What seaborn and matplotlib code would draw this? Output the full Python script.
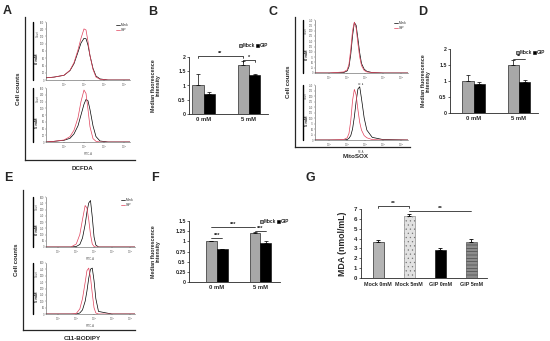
import numpy as np
import pandas as pd
import matplotlib.pyplot as plt
from matplotlib.lines import Line2D
import seaborn as sns

sns.set_style("ticks")
plt.rcParams["font.family"] = ["Liberation Sans", "DejaVu Sans"]
plt.rcParams["hatch.linewidth"] = 0.4

# ---- data -------------------------------------------------------------
doses = ["0 mM", "5 mM"]
groups = ["Mock", "GIP"]

# flow cytometry histograms (x in log decades, y in counts)
A_x = [1.1, 1.5, 2.0, 2.3, 2.5, 2.7, 2.85, 3.0, 3.1, 3.2, 3.3, 3.45, 3.6, 3.8, 4.2, 5.3]
A_top_mock = [6, 8, 13, 26, 45, 77, 102, 115, 114, 96, 67, 32, 11, 3, 0, 0]
A_top_gip = [6, 8, 13, 27, 48, 83, 115, 141, 138, 106, 67, 29, 8, 2, 0, 0]
A_bot_mock = [0, 2, 5, 11, 24, 48, 80, 112, 126, 122, 96, 48, 16, 3, 0, 0]
A_bot_gip = [0, 2, 6, 16, 35, 72, 120, 154, 144, 96, 45, 10, 2, 0, 0, 0]

C_x = [0.2, 1.0, 1.8, 2.0, 2.1, 2.2, 2.3, 2.4, 2.5, 2.6, 2.7, 2.8, 2.95, 3.1, 3.4, 4.0, 5.4]
C_top_mock = [0, 0, 2, 10, 30, 88, 175, 238, 225, 162, 95, 45, 18, 8, 2, 0, 0]
C_top_gip = [0, 0, 5, 15, 42, 112, 200, 240, 212, 138, 75, 35, 12, 5, 2, 0, 0]
C_bot_mock = [0, 0, 0, 2, 8, 20, 50, 105, 175, 232, 242, 188, 100, 45, 12, 2, 0]
C_bot_gip = [0, 0, 2, 10, 30, 88, 180, 230, 205, 138, 80, 45, 20, 10, 2, 0, 0]

E_x = [0.3, 1.0, 1.7, 2.0, 2.2, 2.35, 2.5, 2.6, 2.7, 2.8, 2.9, 3.0, 3.1, 3.25, 4.0, 5.3]
E_top_mock = [0, 0, 0, 4, 20, 72, 180, 280, 352, 372, 240, 80, 16, 0, 0, 0]
E_top_gip = [0, 0, 0, 24, 100, 220, 332, 312, 220, 100, 24, 4, 0, 0, 0, 0]
E_bot_mock = [0, 0, 0, 0, 8, 32, 100, 180, 280, 352, 360, 260, 120, 20, 0, 0]
E_bot_gip = [0, 0, 0, 4, 40, 120, 248, 340, 360, 288, 160, 48, 8, 0, 0, 0]

# median fluorescence intensity
B_mock, B_mock_err = [1.0, 1.72], [0.42, 0.15]
B_gip, B_gip_err = [0.70, 1.37], [0.06, 0.05]
D_mock, D_mock_err = [1.0, 1.50], [0.18, 0.15]
D_gip, D_gip_err = [0.90, 0.98], [0.06, 0.06]
F_mock, F_mock_err = [1.0, 1.20], [0.01, 0.02]
F_gip, F_gip_err = [0.80, 0.97], [0.02, 0.03]

# MDA
G_labels = ["Mock 0mM", "Mock 5mM", "GIP 0mM", "GIP 5mM"]
G_values = [3.7, 6.3, 2.8, 3.7]
G_err = [0.15, 0.2, 0.2, 0.25]

W, H = 550, 341
GRAY = "#a8a8a8"
RED = "#e0405a"


def box(x0, y0, x1, y1):
    return [x0 / W, 1 - y1 / H, (x1 - x0) / W, (y1 - y0) / H]


def ftext(x, y, s, **kw):
    fig.text(x / W, 1 - y / H, s, **kw)


def vline(x, y0, y1, lw=1.0):
    fig.add_artist(Line2D([x / W, x / W], [1 - y0 / H, 1 - y1 / H],
                          color="black", lw=lw, transform=fig.transFigure))


fig = plt.figure(figsize=(5.5, 3.41), dpi=100)


# ---- flow cytometry panels ---------------------------------------------
def hist_axes(rect, xs, mock, gip, xlim, xticks, ylim, yticks, xlabel, legend):
    ax = fig.add_axes(box(*rect))
    sns.lineplot(x=xs, y=mock, color="black", lw=0.5, ax=ax, label="Mock")
    sns.lineplot(x=xs, y=gip, color=RED, lw=0.5, ax=ax, label="GIP")
    ax.set_xlim(*xlim)
    ax.set_ylim(*ylim)
    ax.set_xticks(xticks, [f"$10^{{{t}}}$" for t in xticks])
    ax.set_yticks(yticks)
    ax.tick_params(labelsize=1.8, length=0.8, width=0.3, pad=0.4, colors="#555555")
    for s in ["top", "right"]:
        ax.spines[s].set_visible(False)
    for s in ["left", "bottom"]:
        ax.spines[s].set_linewidth(0.4)
        ax.spines[s].set_color("#555555")
    ax.set_xlabel(xlabel, fontsize=2.0, labelpad=0.3, color="#555555")
    ax.set_ylabel("Count", fontsize=1.8, color="#555555")
    ax.yaxis.set_label_coords(-0.075, 0.8)
    if legend:
        ax.legend(loc="upper right", fontsize=2.3, frameon=False, handlelength=1.2,
                  handletextpad=0.3, borderaxespad=0, labelspacing=0.2)
    else:
        ax.get_legend().remove()
    return ax


def flow_block(outer, top, bot, bar_x, xs, data, xlim, xticks, ylim, yticks, xlabel, title):
    ox0, oy0, ox1, oy1 = outer
    frame = fig.add_axes(box(*outer), zorder=0)
    frame.patch.set_alpha(0)
    frame.set_xticks([])
    frame.set_yticks([])
    for s in ["top", "right"]:
        frame.spines[s].set_visible(False)
    for s in ["left", "bottom"]:
        frame.spines[s].set_linewidth(0.9)
    ftext(ox0 - 7, (oy0 + oy1) / 2, "Cell counts", rotation=90, ha="center", va="center",
          fontsize=4.3, fontweight="bold")
    ftext((ox0 + ox1) / 2 + 3, oy1 + 9, title, ha="center", va="center",
          fontsize=4.5, fontweight="bold")
    for rect, (mock, gip), lab, leg in [(top, data[0], "0 mM", True), (bot, data[1], "5 mM", False)]:
        hist_axes(rect, xs, mock, gip, xlim, xticks, ylim, yticks, xlabel, leg)
        vline(bar_x, rect[1], rect[3])
        ftext(bar_x + 3.5, (rect[1] + rect[3]) / 2 + 8, lab, rotation=90, ha="center",
              va="center", fontsize=3.0, fontweight="bold")


flow_block((25, 17, 135, 160), (46, 22, 130, 80), (46, 88, 130, 142), 33, A_x,
           [(A_top_mock, A_top_gip), (A_bot_mock, A_bot_gip)],
           (1.1, 5.3), [2, 3, 4, 5], (0, 160), range(0, 161, 20), "FITC-A", "DCFDA")
flow_block((295, 17, 410, 147), (315, 20, 408, 73), (315, 85, 408, 140), 303, C_x,
           [(C_top_mock, C_top_gip), (C_bot_mock, C_bot_gip)],
           (0.2, 5.4), [1, 2, 3, 4, 5], (0, 250), range(0, 251, 25), "PE-A", "MitoSOX")
flow_block((23, 190, 135, 330), (46, 197, 135, 247), (46, 263, 135, 314), 33, E_x,
           [(E_top_mock, E_top_gip), (E_bot_mock, E_bot_gip)],
           (0.3, 5.3), [1, 2, 3, 4, 5], (0, 400), range(0, 401, 50), "FITC-A", "C11-BODIPY")


# ---- bar panels --------------------------------------------------------
def bracket(ax, xa, xb, y, text, drop, fs=4):
    ax.plot([xa, xa, xb, xb], [y - drop, y, y, y - drop], color="black", lw=0.5, clip_on=False)
    ax.text((xa + xb) / 2, y, text, ha="center", va="bottom", fontsize=fs, fontweight="bold")


def style_bar_axes(ax, ylabel, ylabel_x, fs_tick, fs_label):
    sns.despine(ax=ax)
    for s in ["left", "bottom"]:
        ax.spines[s].set_linewidth(0.6)
    ax.tick_params(axis="y", labelsize=fs_tick, length=1.5, width=0.5, pad=1)
    ax.tick_params(axis="x", labelsize=fs_tick + 0.4, length=0, pad=2)
    for t in ax.get_xticklabels() + ax.get_yticklabels():
        t.set_fontweight("bold")
    ax.set_xlabel("")
    ax.set_ylabel(ylabel, fontsize=fs_label, fontweight="bold", linespacing=1.0)
    ax.yaxis.set_label_coords(ylabel_x, 0.5)


def mfi_panel(rect, mock, mock_err, gip, gip_err, ylim, yticks, ytl, xlim, leg_anchor, ylabel_x):
    ax = fig.add_axes(box(*rect))
    df = pd.DataFrame({"Dose": doses * 2, "Group": ["Mock"] * 2 + ["GIP"] * 2,
                       "MFI": mock + gip})
    sns.barplot(data=df, x="Dose", y="MFI", hue="Group", palette=[GRAY, "black"],
                width=0.5, errorbar=None, edgecolor="black", linewidth=0.4, ax=ax)
    centers = []
    for cont, errs in zip(ax.containers, [mock_err, gip_err]):
        row = []
        for bar, e in zip(cont, errs):
            cx = bar.get_x() + bar.get_width() / 2
            row.append(cx)
            ax.errorbar(cx, bar.get_height(), yerr=[[0], [e]], fmt="none", ecolor="black",
                        elinewidth=0.5, capsize=1.2, capthick=0.5)
        centers.append(row)
    ax.set_ylim(*ylim)
    ax.set_yticks(yticks, ytl)
    ax.set_xlim(*xlim)
    handles, labels = ax.get_legend_handles_labels()
    ax.legend(handles, labels, loc="upper right", bbox_to_anchor=leg_anchor, ncol=2,
              frameon=False, handlelength=0.6, handleheight=0.6,
              handletextpad=0.15, columnspacing=0.3, borderpad=0, borderaxespad=0,
              prop={"weight": "bold", "size": 3.4})
    style_bar_axes(ax, "Median fluorescence\nintensity", ylabel_x, 3.8, 3.8)
    return ax, centers


axB, cB = mfi_panel((189, 57, 268, 114), B_mock, B_mock_err, B_gip, B_gip_err, (0, 2),
                    [0, 0.5, 1, 1.5, 2], ["0", "0.5", "1", "1.5", "2"], (-0.32, 1.42),
                    (1.0, 1.25), -0.36)
bracket(axB, cB[0][0], cB[0][1], 2.02, "**", 0.06)
bracket(axB, cB[0][1], cB[1][1], 1.88, "*", 0.05)

axD, cD = mfi_panel((450, 49, 538, 113), D_mock, D_mock_err, D_gip, D_gip_err, (0, 2),
                    [0, 0.5, 1, 1.5, 2], ["0", "0.5", "1", "1.5", "2"], (-0.52, 1.42),
                    (1.08, 0.98), -0.22)
bracket(axD, cD[0][1], cD[1][1], 1.69, "**", 0.0)

axF, cF = mfi_panel((189, 221, 280, 282), F_mock, F_mock_err, F_gip, F_gip_err, (0, 1.5),
                    [0, 0.25, 0.5, 0.75, 1, 1.25, 1.5],
                    ["0", "0.25", "0.5", "0.75", "1", "1.25", "1.5"], (-0.64, 1.45),
                    (1.1, 1.03), -0.31)
bracket(axF, cF[0][0], cF[1][0], 1.09, "***", 0.0)
bracket(axF, cF[0][0], cF[0][1], 1.36, "***", 0.0)
bracket(axF, cF[0][1], cF[1][1], 1.25, "***", 0.0)

# ---- panel G -------------------------------------------------------------
axG = fig.add_axes(box(361, 209, 487, 278))
G_colors = ["#b4b4b4", "#e2e2e2", "#000000", "#8c8c8c"]
G_hatch = ["", "....", "", "-----"]
sns.barplot(x=G_labels, y=G_values, hue=G_labels, palette=G_colors, legend=False,
            width=0.35, errorbar=None, edgecolor="black", linewidth=0.4, ax=axG)
g_bars = [b for c in axG.containers for b in c]
g_cx = []
for bar, e, h in zip(g_bars, G_err, G_hatch):
    if h:
        bar.set_hatch(h)
        bar.set_edgecolor("#3a3a3a" if h == "-----" else "#777777")
    cx = bar.get_x() + bar.get_width() / 2
    g_cx.append(cx)
    axG.errorbar(cx, bar.get_height(), yerr=[[0], [e]], fmt="none", ecolor="black",
                 elinewidth=0.6, capsize=1.3, capthick=0.6)
axG.set_ylim(0, 7)
axG.set_yticks(range(0, 8))
axG.set_xlim(-0.55, 3.5)
style_bar_axes(axG, "MDA (nmol/mL)", -0.11, 4.4, 6.3)
axG.tick_params(axis="x", labelsize=3.9, pad=3)
bracket(axG, g_cx[0], g_cx[1], 7.34, "**", 0.2, fs=4.5)
bracket(axG, g_cx[1], g_cx[3], 6.83, "**", 0.0, fs=4.5)

# ---- panel letters -------------------------------------------------------
for letter, x, y in [("A", 7, 11), ("B", 153, 12), ("C", 273, 12), ("D", 423, 12),
                     ("E", 8, 178), ("F", 155, 178), ("G", 310, 178)]:
    ftext(x, y, letter, ha="center", va="center", fontsize=9, fontweight="bold")

fig.savefig("out.png", dpi=100)
